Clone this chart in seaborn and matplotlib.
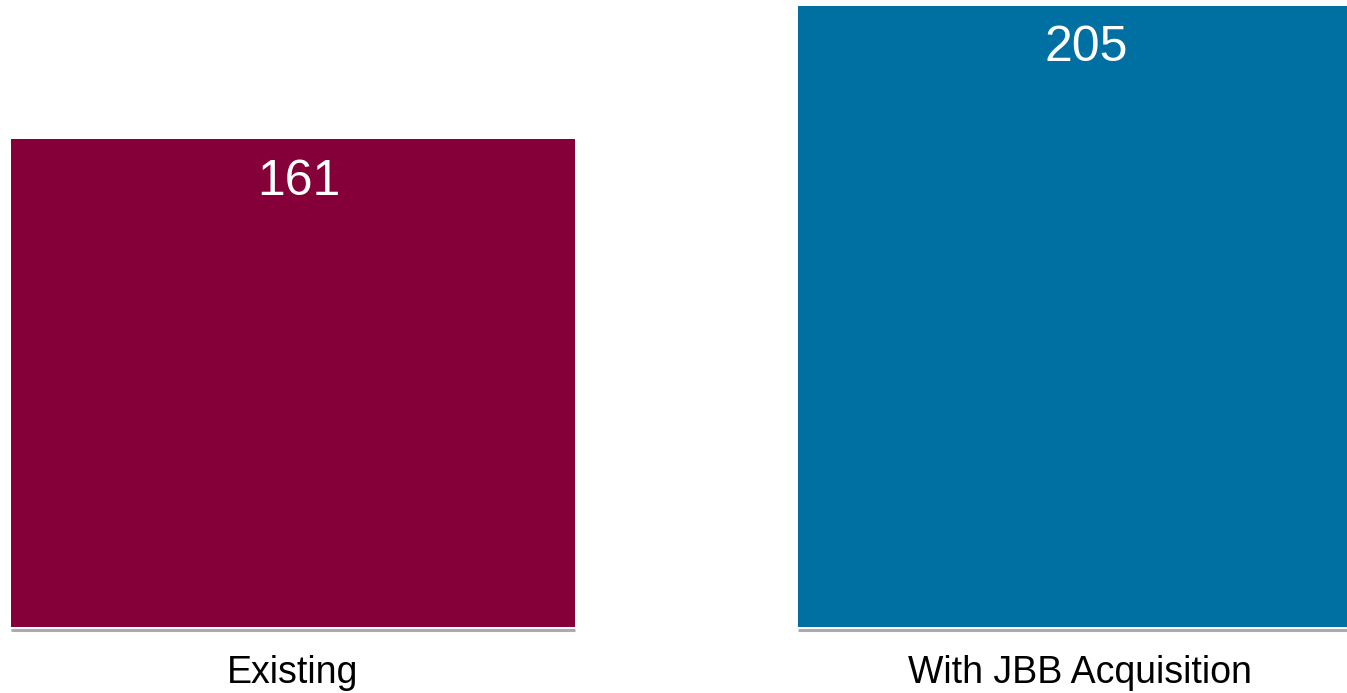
import matplotlib
matplotlib.use("Agg")
import matplotlib.pyplot as plt
import matplotlib.transforms as mtransforms
import seaborn as sns
import pandas as pd

categories = ["Existing", "With JBB Acquisition"]
values = [161, 205]
colors = ["#850038", "#0070A3"]

sns.set_theme(style="white")
plt.rcParams['font.family'] = ['Liberation Sans', 'DejaVu Sans']

df = pd.DataFrame({"category": categories, "value": values})

fig = plt.figure(figsize=(13.47, 6.93), dpi=100)
ax = fig.add_axes([0, 66 / 693, 1, 627 / 693])

sns.barplot(data=df, x="category", y="value", hue="category", palette=colors,
            width=0.717, legend=False, ax=ax, saturation=1, linewidth=0)

ax.set_xlim(-0.3723, 1.3393)
ax.set_ylim(0, 206.9)

# shadow lines under the bars
off = mtransforms.offset_copy(ax.transData, fig=fig, x=0, y=-2.2, units='points')
for p in ax.patches:
    x0 = p.get_x()
    x1 = x0 + p.get_width()
    ax.plot([x0, x1], [0, 0], color="#ababab", lw=2.2, transform=off,
            solid_capstyle='butt', clip_on=False, zorder=1)

for p, v in zip(ax.patches, values):
    ax.annotate(f"{v}", (p.get_x() + p.get_width() / 2, p.get_height()),
                xytext=(4.5, -14), textcoords="offset points",
                ha="center", va="top", color="white", fontsize=36)

sns.despine(ax=ax, left=True, bottom=True)
ax.set_yticks([])
ax.set_xlabel("")
ax.set_ylabel("")
ax.tick_params(axis='x', length=0, pad=20, labelsize=27, colors="black")

fig.savefig("out.png", dpi=100)
